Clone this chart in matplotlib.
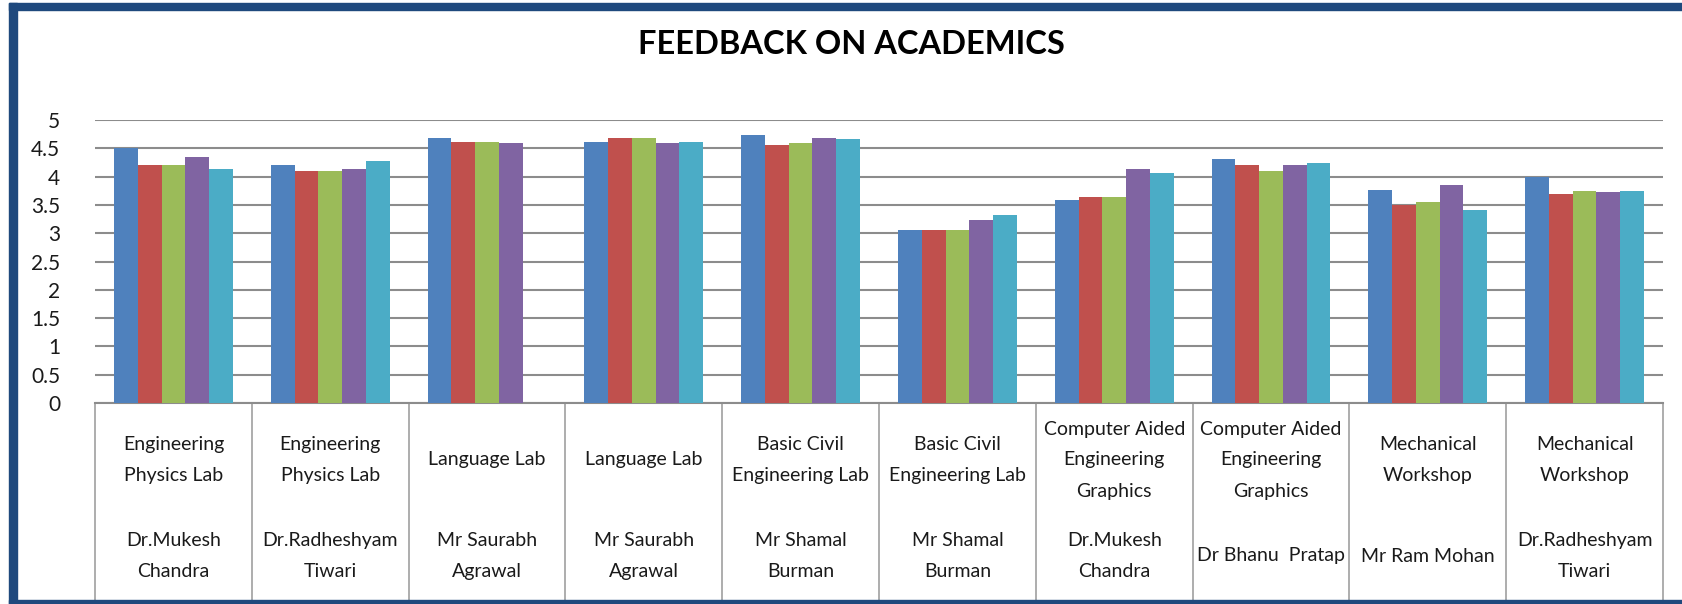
import numpy as np
import matplotlib.pyplot as plt
from matplotlib.patches import Rectangle
from matplotlib.lines import Line2D

# chart data
subjects = ['Engineering\nPhysics Lab', 'Engineering\nPhysics Lab', 'Language Lab', 'Language Lab',
            'Basic Civil\nEngineering Lab', 'Basic Civil\nEngineering Lab',
            'Computer Aided\nEngineering\nGraphics', 'Computer Aided\nEngineering\nGraphics',
            'Mechanical\nWorkshop', 'Mechanical\nWorkshop']
teachers = ['Dr.Mukesh\nChandra', 'Dr.Radheshyam\nTiwari', 'Mr Saurabh\nAgrawal', 'Mr Saurabh\nAgrawal',
            'Mr Shamal\nBurman', 'Mr Shamal\nBurman', 'Dr.Mukesh\nChandra', 'Dr Bhanu  Pratap',
            'Mr Ram Mohan', 'Dr.Radheshyam\nTiwari']

s1 = [4.50, 4.20, 4.69, 4.62, 4.73, 3.05, 3.58, 4.31, 3.76, 4.00]
s2 = [4.21, 4.10, 4.62, 4.69, 4.55, 3.05, 3.64, 4.20, 3.49, 3.69]
s3 = [4.21, 4.10, 4.62, 4.69, 4.59, 3.05, 3.64, 4.10, 3.55, 3.75]
s4 = [4.35, 4.13, 4.59, 4.59, 4.69, 3.23, 4.13, 4.20, 3.86, 3.72]
s5 = [4.14, 4.27, np.nan, 4.62, 4.66, 3.33, 4.07, 4.24, 3.41, 3.75]
series = [s1, s2, s3, s4, s5]
colors = ['#4F81BD', '#C0504D', '#9BBB59', '#8064A2', '#4BACC6']

yticks = np.arange(0, 5.01, 0.5)
ytick_labels = ['0', '0.5', '1', '1.5', '2', '2.5', '3', '3.5', '4', '4.5', '5']

W, H = 1682, 604
plt.rcParams['font.family'] = ['Lato', 'DejaVu Sans']

fig = plt.figure(figsize=(W / 100, H / 100), dpi=100)
fig.patch.set_facecolor('white')

# plot area in pixels
px_left, px_right, px_top, px_bot = 95, 1663, 120, 403
ax = fig.add_axes([px_left / W, 1 - px_bot / H, (px_right - px_left) / W, (px_bot - px_top) / H])

n = len(subjects)
x = np.arange(n)
bw = 0.757 / 5
for i, (vals, c) in enumerate(zip(series, colors)):
    ax.bar(x + (i - 2) * bw, vals, width=bw, color=c, edgecolor='none', zorder=3)

ax.set_xlim(-0.5, n - 0.5)
ax.set_ylim(0, 5)
ax.set_yticks(yticks)
ax.set_yticklabels(ytick_labels, fontsize=15, color='#1a1a1a')
ax.set_xticks([])
ax.tick_params(axis='y', length=0, pad=25)
ax.grid(axis='y', color='#8C8C8C', linewidth=1.5, zorder=1)
for sp in ['left', 'right', 'top']:
    ax.spines[sp].set_visible(False)
ax.spines['bottom'].set_color('#8C8C8C')
ax.spines['bottom'].set_linewidth(1.5)


def fy(py):
    # pixel row -> axes fraction
    return (px_bot - py) / (px_bot - px_top)


xt = ax.get_xaxis_transform()
line_c = '#A0A0A0'
for b in np.arange(-0.5, n, 1.0):
    ax.add_line(Line2D([b, b], [fy(403), fy(604)], transform=xt, color=line_c, lw=1.2, clip_on=False))
ax.add_line(Line2D([45 / W, 1663 / W], [1 - 593 / H, 1 - 593 / H], transform=fig.transFigure,
                   color=line_c, lw=1.2))
ax.add_line(Line2D([45 / W, 45 / W], [1 - 593 / H, 0], transform=fig.transFigure, color=line_c, lw=1.2))

for i in range(n):
    ax.text(x[i], fy(460), subjects[i], transform=xt, ha='center', va='center', fontsize=14,
            color='#1a1a1a', linespacing=2.0, clip_on=False)
    ax.text(x[i], fy(556), teachers[i], transform=xt, ha='center', va='center', fontsize=14,
            color='#1a1a1a', linespacing=2.0, clip_on=False)

fig.text(851 / W, 1 - 44 / H, 'FEEDBACK ON ACADEMICS', ha='center', va='center', fontsize=23.5,
         fontweight='bold', color='black')

# dark blue frame around the chart (right side is cut off in the original)
frame_c = '#1F497D'
fig.add_artist(Rectangle((9 / W, 1 - 10 / H), 1, 7 / H, transform=fig.transFigure, color=frame_c))
fig.add_artist(Rectangle((9 / W, 0), 8 / W, 1 - 3 / H, transform=fig.transFigure, color=frame_c))
fig.add_artist(Rectangle((9 / W, 0), 1, 4 / H, transform=fig.transFigure, color=frame_c))

fig.savefig('out.png', dpi=100)
